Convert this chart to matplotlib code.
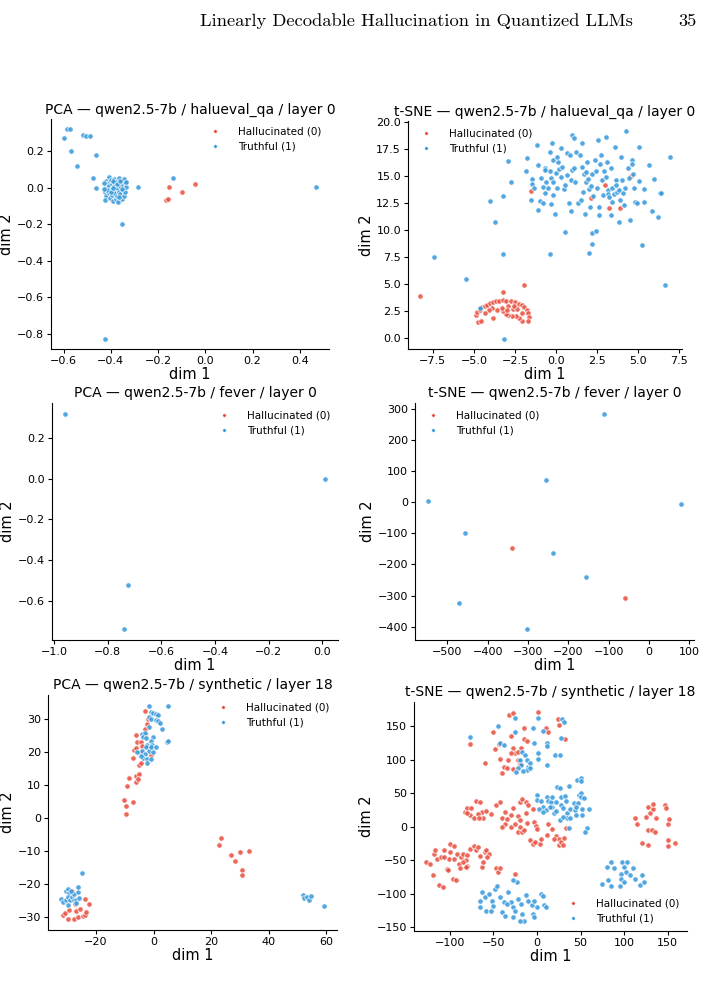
import numpy as np
import matplotlib
matplotlib.use('Agg')
import matplotlib.pyplot as plt
from matplotlib.lines import Line2D

# colours used for the two classes
RED = '#e74c3c'
BLUE = '#3498db'

labels = ['Hallucinated (0)', 'Truthful (1)']

titles = [
    'PCA — qwen2.5-7b / halueval_qa / layer 0',
    't-SNE — qwen2.5-7b / halueval_qa / layer 0',
    'PCA — qwen2.5-7b / fever / layer 0',
    't-SNE — qwen2.5-7b / fever / layer 0',
    'PCA — qwen2.5-7b / synthetic / layer 18',
    't-SNE — qwen2.5-7b / synthetic / layer 18',
]

# ---- PCA / halueval_qa ----
pca_halu_hal = [(-0.165, -0.065), (-0.16, -0.06), (-0.155, 0.005), (-0.10, -0.02),
                (-0.045, 0.022)]
pca_halu_tru = [
    (-0.60, 0.275), (-0.585, 0.32), (-0.575, 0.32), (-0.57, 0.20), (-0.545, 0.12),
    (-0.52, 0.29), (-0.505, 0.285), (-0.49, 0.285), (-0.465, 0.18), (-0.475, 0.055),
    (-0.465, 0.0), (-0.285, 0.007), (-0.135, 0.055), (-0.355, -0.20), (-0.425, -0.825),
    (0.47, 0.007),
    # dense cluster
    (-0.42, 0.04), (-0.415, 0.02), (-0.42, 0.0), (-0.425, -0.02), (-0.42, -0.045),
    (-0.425, -0.065), (-0.41, 0.06), (-0.405, 0.03), (-0.41, 0.01), (-0.405, -0.01),
    (-0.41, -0.03), (-0.405, -0.055), (-0.40, 0.045), (-0.395, 0.02), (-0.395, -0.005),
    (-0.395, -0.04), (-0.39, -0.07), (-0.385, 0.05), (-0.385, 0.03), (-0.385, 0.01),
    (-0.38, -0.015), (-0.385, -0.03), (-0.38, -0.06), (-0.375, 0.04), (-0.375, 0.0),
    (-0.375, -0.045), (-0.37, -0.075), (-0.37, 0.02), (-0.365, -0.02), (-0.365, 0.055),
    (-0.36, 0.01), (-0.36, -0.035), (-0.355, -0.06), (-0.355, 0.035), (-0.35, -0.01),
    (-0.35, 0.015), (-0.345, -0.045), (-0.345, 0.05), (-0.34, 0.025), (-0.34, -0.025),
    (-0.335, 0.005), (-0.335, 0.03), (-0.415, -0.01), (-0.40, -0.025), (-0.39, 0.0),
    (-0.375, 0.02), (-0.36, 0.04), (-0.355, -0.005), (-0.43, -0.005), (-0.43, 0.025),
    (-0.365, -0.05), (-0.39, 0.035),
]

# ---- t-SNE / halueval_qa ----
tsne_halu_hal = [
    (-8.25, 3.9), (-3.25, 4.25), (-1.95, 4.9),
    (-1.5, 13.6), (2.15, 12.95), (2.95, 14.1), (3.2, 12.0), (3.9, 12.0), (4.55, 14.95),
    # arc
    (-4.9, 2.1), (-4.8, 2.4), (-4.75, 1.45), (-4.55, 1.55), (-4.6, 2.6), (-4.5, 2.85),
    (-4.35, 3.0), (-4.2, 3.1), (-4.0, 3.2), (-3.85, 3.35), (-3.65, 3.4), (-3.45, 3.4),
    (-3.25, 3.5), (-3.05, 3.45), (-2.75, 3.4), (-2.5, 3.35), (-2.25, 3.15), (-2.05, 3.1),
    (-1.95, 2.85), (-1.8, 2.6), (-1.7, 2.3), (-1.65, 1.95), (-1.7, 1.55), (-2.05, 1.55),
    (-2.25, 1.85), (-2.45, 2.05), (-2.7, 2.0), (-2.9, 2.1), (-3.05, 2.2), (-3.25, 2.5),
    (-3.3, 2.8), (-3.6, 2.55), (-3.85, 1.85), (-3.9, 2.75), (-4.1, 2.6), (-4.3, 2.3),
    (-2.65, 2.65), (-2.35, 2.65), (-2.1, 2.35), (-2.95, 3.0), (-3.0, 2.55), (-2.55, 3.0),
]
tsne_halu_tru = [
    (-4.6, 2.8), (-3.15, -0.05),
    (-7.45, 7.45), (-5.45, 5.5), (-4.05, 12.7), (-3.7, 10.7), (-3.25, 13.15), (-3.25, 7.75),
    (-0.4, 7.75), (-2.75, 14.45), (-2.95, 16.4), (6.6, 4.9), (5.25, 8.6), (2.0, 7.9),
    (2.2, 8.7), (2.2, 9.7), (2.4, 9.85), (0.55, 9.8), (6.2, 11.2), (5.85, 11.7),
    (6.9, 16.75), (4.25, 19.1), (0.95, 18.75),
    (-1.78, 16.6), (-1.82, 15.45), (-1.47, 14.7), (-1.47, 14.2), (-1.37, 13.85),
    (-1.5, 12.8), (-1.1, 16.0), (-1.16, 17.8), (-0.96, 12.7), (-0.9, 14.75), (-0.82, 14.0),
    (-0.7, 13.4), (-0.7, 15.75), (-0.6, 14.45), (-0.5, 13.85), (-0.4, 17.2), (-0.37, 15.4),
    (-0.28, 14.75), (-0.25, 18.05), (-0.2, 14.45), (-0.2, 16.45), (-0.18, 13.2),
    (-0.28, 12.4), (-0.08, 11.45), (0.0, 15.25), (0.04, 13.9), (0.12, 16.3), (0.2, 15.6),
    (0.27, 14.85), (0.37, 15.85), (0.49, 13.75), (0.57, 14.1), (0.65, 17.1), (0.69, 15.1),
    (0.78, 12.45), (0.82, 16.9), (0.88, 11.7), (0.9, 14.6), (0.94, 15.55), (1.08, 18.45),
    (1.08, 15.7), (1.14, 14.45), (1.22, 17.2), (1.35, 12.45), (1.43, 16.9), (1.5, 12.8),
    (1.55, 15.8), (1.63, 13.5), (1.67, 15.2), (1.73, 11.5), (1.8, 14.45), (1.86, 16.3),
    (1.92, 14.7), (2.0, 13.8), (2.04, 12.15), (2.12, 14.05), (2.2, 15.15), (2.24, 13.15),
    (2.35, 16.45), (2.41, 15.45), (2.5, 13.85), (2.55, 18.3), (2.61, 12.15), (2.61, 11.4),
    (2.65, 16.1), (2.71, 16.95), (2.78, 14.6), (2.86, 13.2), (2.94, 15.4), (3.02, 18.55),
    (3.06, 14.85), (3.12, 16.3), (3.14, 13.65), (3.18, 13.3), (3.22, 13.0), (3.31, 15.75),
    (3.33, 11.35), (3.39, 13.85), (3.43, 12.6), (3.51, 13.3), (3.59, 17.7), (3.63, 14.65),
    (3.67, 14.1), (3.73, 13.5), (3.8, 13.7), (3.84, 10.75), (3.88, 12.8), (3.94, 16.75),
    (4.0, 14.6), (4.08, 13.4), (4.14, 12.3), (4.2, 13.85), (4.35, 15.75), (4.45, 14.75),
    (4.51, 10.9), (4.61, 16.45), (4.61, 16.1), (4.69, 15.2), (4.76, 13.9), (4.82, 12.6),
    (4.9, 12.5), (5.02, 14.55), (5.06, 17.7), (5.33, 12.6), (5.37, 13.75), (5.63, 16.0),
    (5.94, 14.7), (6.29, 13.4), (6.4, 13.4), (-0.8, 12.45), (-1.1, 11.85), (-0.65, 15.55),
    (0.27, 17.6), (1.6, 18.0), (0.06, 16.7), (1.8, 15.3),
]

# ---- PCA / fever ----
pca_fever_hal = []
pca_fever_tru = [(-0.96, 0.32), (0.01, 0.0), (-0.725, -0.52), (-0.74, -0.74)]

# ---- t-SNE / fever ----
tsne_fever_hal = [(-339, -148), (-60, -308)]
tsne_fever_tru = [(-111, 284), (-256, 70), (-549, 3), (80, -7), (-456, -100),
                  (-239, -164), (-156, -239), (-472, -325), (-303, -408)]

# ---- PCA / synthetic ----
pca_syn_hal = [
    (-3.1, 32.5), (-9.2, 9.8), (-9.6, 3.6), (-10.2, 5.3), (-9.5, 1.3), (-7.1, 4.8),
    (-8.5, 12.2), (-6.2, 10.8), (-6.0, 12.8), (-5.0, 13.2), (-5.5, 11.9), (-7.3, 18.2),
    (-6.8, 20.6), (-6.2, 21.2), (-5.6, 22.9), (-6.0, 25.0), (-4.5, 22.9), (-3.9, 21.9),
    (-3.0, 25.0), (-2.8, 27.0), (-2.2, 28.5), (-5.0, 15.9), (-4.5, 16.6), (-1.0, 19.2),
    (-1.8, 30.0), (-4.8, 19.9),
    (23.5, -6.0), (22.9, -8.1), (26.8, -11.1), (28.3, -13.0), (30.1, -10.3), (33.2, -10.1),
    (30.9, -15.7), (30.9, -17.4),
    (-31.5, -29.5), (-30.7, -28.8), (-29.6, -30.7), (-29.2, -27.8), (-27.8, -30.5),
    (-28.2, -22.1), (-27.1, -28.2), (-26.2, -30.0), (-25.6, -27.5), (-24.6, -29.8),
    (-23.9, -29.5), (-23.5, -28.5), (-23.7, -24.4), (-22.5, -26.2), (-27.4, -26.0),
]
pca_syn_tru = [
    (-1.5, 34.0), (4.9, 34.0), (-0.7, 32.0), (-0.2, 31.7), (0.9, 31.5), (1.6, 31.3),
    (-1.4, 30.5), (-0.7, 30.0), (0.7, 29.7), (1.6, 29.3), (2.1, 28.7), (2.8, 27.0),
    (-1.4, 27.5), (4.6, 22.9), (5.2, 23.2), (-4.1, 25.5), (-3.0, 25.7), (-3.7, 24.5),
    (-2.5, 24.3), (-0.2, 24.5), (-1.0, 23.2), (-2.2, 22.2), (-0.4, 22.2), (-2.7, 21.4),
    (-3.9, 20.4), (-5.6, 19.9), (-1.6, 20.4), (-0.1, 20.1), (-3.0, 19.4), (-3.7, 18.2),
    (-2.2, 17.9), (-1.0, 17.9), (-2.2, 16.6), (-4.5, 18.9), (-0.7, 21.4), (0.7, 21.6),
    (-32.1, -24.4), (-31.3, -25.4), (-30.4, -24.9), (-30.4, -22.2), (-29.8, -21.4),
    (-29.2, -22.7), (-29.8, -23.9), (-29.0, -24.9), (-29.8, -26.5), (-28.3, -23.9),
    (-27.5, -24.9), (-27.8, -22.9), (-26.9, -24.9), (-26.3, -22.4), (-26.3, -20.9),
    (-26.0, -24.1), (-27.1, -25.9), (-24.9, -16.7), (-28.6, -22.1),
    (51.8, -23.4), (52.3, -24.2), (53.5, -23.9), (54.1, -24.7), (54.6, -23.7),
    (59.2, -26.8),
]

# ---- t-SNE / synthetic ----
tsne_syn_hal = [
    # top mixed group
    (-77, 124), (-60, 95), (-50, 142), (-48, 116), (-42, 102), (-40, 80), (-38, 89),
    (-33, 100), (-32, 167), (-27, 170), (-30, 136), (-27, 118), (-25, 110), (-22, 100),
    (-30, 110), (-28, 86), (-35, 88), (-15, 148), (-15, 131), (-18, 118), (1, 171),
    (10, 148), (13, 142), (24, 161), (25, 152), (32, 131), (-44, 124), (-20, 94),
    (-12, 128), (-22, 112),
    # middle left
    (-83, 22), (-80, 28), (-77, 17), (-76, 28), (-70, 39), (-65, 37), (-63, 22), (-62, 13),
    (-58, 24), (-53, 19), (-80, 20), (-72, 14), (-68, 19), (-67, 13),
    # middle
    (-47, 33), (-42, 37), (-40, 14), (-37, 22), (-37, 5), (-35, 12), (-30, 17), (-30, 0),
    (-22, 16), (-20, 11), (-20, 0), (-22, -8), (-17, -8), (-15, -5), (-13, 20), (-13, 37),
    (-20, 37), (-17, 42), (-10, 32), (-5, 27), (-3, 7), (-1, 2), (0, -3), (-8, -20),
    (-5, -25), (-2, -22), (3, -25), (5, -18), (-40, 0), (-28, 28), (-12, 6), (-25, 4),
    (12, -12), (17, -3), (22, -13), (25, -18), (25, -27), (27, -22), (20, -18), (30, -27),
    (31, -17), (33, -2), (13, 5),
    # lower left
    (-127, -52), (-123, -55), (-120, -72), (-118, -40), (-117, -35), (-115, -48),
    (-113, -87), (-110, -45), (-108, -90), (-107, -35), (-103, -63), (-101, -48),
    (-100, -38), (-100, -26), (-97, -78), (-95, -28), (-93, -80), (-92, -40), (-90, -55),
    (-88, -62), (-87, -45), (-85, -40), (-82, -50), (-80, -42), (-80, -58), (-77, -33),
    (-72, -28), (-70, -35), (-68, -30), (-65, -43), (-63, -60), (-62, -52), (-60, -38),
    (-58, -35), (-55, -40), (-57, -45), (-47, -62), (-45, -68), (-43, -62), (-102, -65),
    (-95, -48), (-85, -52), (-107, -45), (-82, -60),
    (-25, -70),
    # right
    (113, 13), (115, 5), (120, -24), (127, -27), (127, -5), (128, 30), (130, 20),
    (132, -5), (133, 27), (133, 34), (135, -7), (137, 13), (147, 32), (148, 28),
    (150, 5), (151, -20), (151, -28), (152, 12), (158, -24), (125, 15),
]
tsne_syn_tru = [
    # top mixed group
    (-77, 134), (-45, 150), (-42, 125), (-38, 122), (-25, 162), (-25, 142), (-17, 112),
    (-14, 108), (-20, 100), (-12, 100), (-18, 92), (-10, 90), (-12, 85), (-16, 84),
    (-8, 95), (-5, 148), (-4, 126), (1, 162), (1, 110), (1, 102), (7, 143), (12, 126),
    (12, 121), (11, 92), (21, 108), (26, 108), (28, 133), (29, 161), (31, 156),
    (-22, 88), (-8, 88), (-24, 82),
    # middle right
    (0, 47), (0, 40), (5, 38), (7, 29), (2, 27), (10, 25), (7, 22), (12, 44), (13, 39),
    (16, 37), (17, 45), (17, 29), (20, 21), (22, 37), (23, 60), (26, 58), (27, 44),
    (28, 32), (30, 28), (32, 46), (33, 39), (35, 21), (35, 13), (37, 61), (37, -1),
    (38, 27), (42, 36), (44, 25), (45, 18), (46, 70), (47, 35), (48, 48), (50, 73),
    (50, 68), (50, 50), (50, 45), (52, 27), (52, 18), (54, 43), (57, -2), (55, -8),
    (60, 27), (26, 10), (38, 14), (15, 29), (30, 15), (45, 30), (22, 24),
    # bottom
    (-66, -111), (-65, -120), (-63, -98), (-60, -105), (-58, -125), (-55, -100),
    (-52, -110), (-50, -118), (-48, -93), (-46, -88), (-43, -105), (-40, -127),
    (-38, -112), (-37, -133), (-33, -98), (-30, -112), (-28, -120), (-27, -135),
    (-25, -125), (-22, -108), (-23, -82), (-18, -115), (-17, -130), (-15, -140),
    (-13, -102), (-10, -110), (-6, -117), (-5, -130), (-3, -135), (0, -120), (5, -100),
    (7, -103), (8, -117), (10, -120), (-20, -140), (-27, -80), (-35, -115), (-53, -125),
    (-3, -110),
    # right
    (75, -85), (80, -60), (82, -80), (85, -52), (85, -88), (88, -62), (97, -70),
    (97, -78), (98, -52), (100, -60), (100, -83), (102, -67), (103, -52), (107, -72),
    (110, -62), (113, -78), (118, -87), (120, -72), (123, -83), (95, -88),
]

panels = [
    (pca_halu_hal, pca_halu_tru, 'upper right'),
    (tsne_halu_hal, tsne_halu_tru, 'upper left'),
    (pca_fever_hal, pca_fever_tru, 'upper right'),
    (tsne_fever_hal, tsne_fever_tru, 'upper left'),
    (pca_syn_hal, pca_syn_tru, 'upper right'),
    (tsne_syn_hal, tsne_syn_tru, 'lower right'),
]

W, H = 704, 989
# axes boxes in pixels: left, top, right, bottom
boxes = [
    (51, 119, 329, 349),
    (408, 121, 682, 349),
    (52, 403, 338, 640),
    (415, 403, 694, 640),
    (48, 695, 337, 930),
    (414, 702, 687, 931),
]

fig = plt.figure(figsize=(W / 100., H / 100.), dpi=100)

# running header of the page
fig.text(633 / W, 1 - 21 / H, 'Linearly Decodable Hallucination in Quantized LLMs',
         family='cmr10', fontsize=13.3, ha='right', va='center')
fig.text(697 / W, 1 - 21 / H, '35', family='cmr10', fontsize=13.3,
         ha='right', va='center')

for i, (hal, tru, loc) in enumerate(panels):
    l, t, r, b = boxes[i]
    ax = fig.add_axes([l / W, 1 - b / H, (r - l) / W, (b - t) / H])
    for pts, c in [(hal, RED), (tru, BLUE)]:
        if len(pts) == 0:
            continue
        arr = np.array(pts, dtype=float)
        ax.scatter(arr[:, 0], arr[:, 1], s=15, c=c, edgecolors='white',
                   linewidths=0.6, alpha=0.85)
    ax.set_title(titles[i], fontsize=10, pad=4)
    ax.set_xlabel('dim 1', fontsize=10.5, labelpad=1)
    ax.set_ylabel('dim 2', fontsize=10.5, labelpad=2)
    ax.tick_params(labelsize=8, length=3, pad=2)
    ax.spines['top'].set_visible(False)
    ax.spines['right'].set_visible(False)

    handles = [Line2D([], [], ls='', marker='o', ms=2.5, mfc=RED, mec='white', mew=0.3),
               Line2D([], [], ls='', marker='o', ms=2.5, mfc=BLUE, mec='white', mew=0.3)]
    ax.legend(handles, labels, loc=loc, fontsize=7.5, frameon=False,
              handletextpad=1.2, borderaxespad=0.3)

plt.savefig('out.png', dpi=100)
